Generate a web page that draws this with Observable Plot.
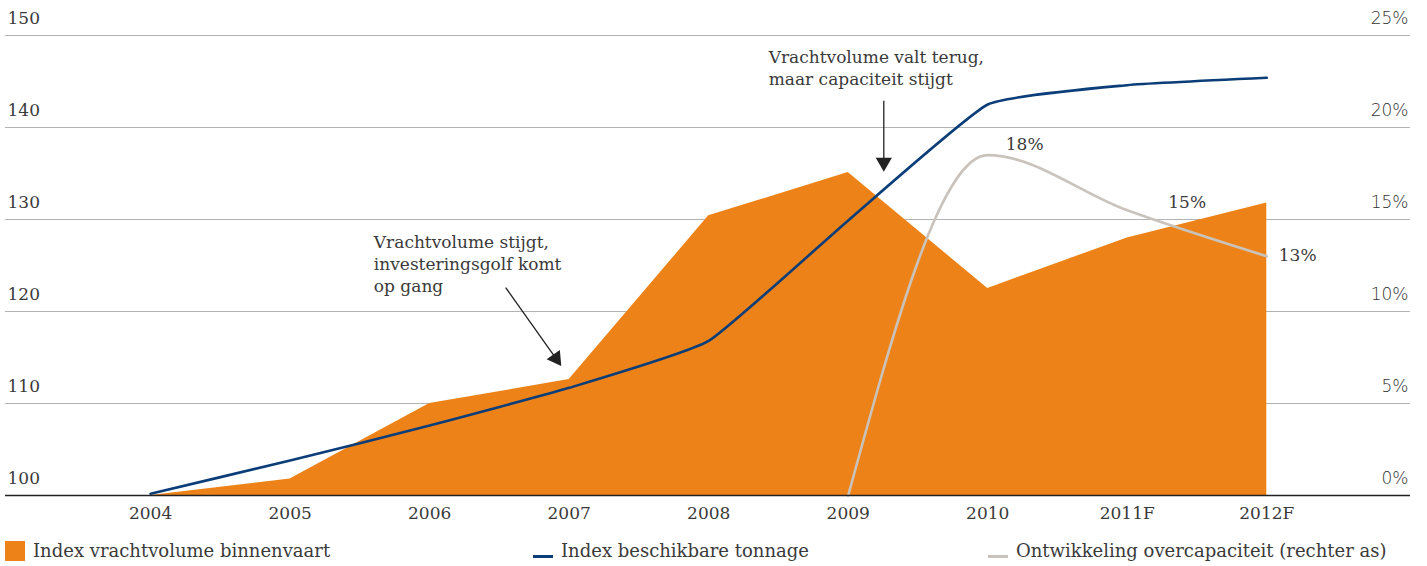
<!DOCTYPE html>
<html>
<head>
<meta charset="utf-8">
<script src="https://cdn.jsdelivr.net/npm/d3@7"></script>
<script src="https://cdn.jsdelivr.net/npm/@observablehq/plot@0.6"></script>
<style>
  body { margin: 0; background: #fff; }
  #wrap { position: relative; width: 1427px; height: 566px; font-family: "DejaVu Serif", serif; color: #3a3a3a; }
  #legend { position: absolute; top: 534px; left: 0; width: 1427px; height: 32px; font-size: 18px; }
  .item { position: absolute; top: 6px; display: flex; align-items: center; white-space: nowrap; }
  .sw { display: inline-block; margin-right: 8px; }
</style>
</head>
<body>
<div id="wrap">
  <div id="chart"></div>
  <div id="legend">
    <div class="item" style="left:5px"><span class="sw" style="width:20px;height:20px;background:#ED8318"></span>Index vrachtvolume binnenvaart</div>
    <div class="item" style="left:533px"><span class="sw" style="width:20px;height:3px;background:#0B3D78;margin-top:12px"></span>Index beschikbare tonnage</div>
    <div class="item" style="left:988px"><span class="sw" style="width:20px;height:3px;background:#C9C3BB;margin-top:12px"></span>Ontwikkeling overcapaciteit (rechter as)</div>
  </div>
</div>
<script>
const years = ["2004", "2005", "2006", "2007", "2008", "2009", "2010", "2011F", "2012F"];
const vrachtvolume = [100, 101.8, 110, 112.6, 130.4, 135.1, 122.5, 128.0, 131.8];
const tonnage = [100.2, 103.8, 107.6, 111.7, 116.8, 129.9, 142.5, 144.6, 145.4];
const overcapYears = ["2009", "2010", "2011F", "2012F"];
const overcap = [0, 18.5, 15.5, 13];
const leftTicks = [100, 110, 120, 130, 140, 150];
const rightTicks = [0, 5, 10, 15, 20, 25];
const overcapLabels = ["18%", "15%", "13%"];
const annotations = [
  {text: "Vrachtvolume valt terug,\nmaar capaciteit stijgt", x: 4.43, y: 148.75},
  {text: "Vrachtvolume stijgt,\ninvesteringsgolf komt\nop gang", x: 1.6, y: 128.6}
];
const arrows = [
  {x1: 5.255, y1: 142.9, x2: 5.255, y2: 136.2, rot: 180},
  {x1: 2.545, y1: 122.6, x2: 2.905, y2: 114.9, rot: 145}
];

const idx = y => years.indexOf(y);
const rows = years.map((y, i) => ({i, year: y, vol: vrachtvolume[i], ton: tonnage[i]}));
const oc = overcapYears.map((y, k) => ({i: idx(y), pct: overcap[k], v: 100 + overcap[k] * 2}));

const serif = "DejaVu Serif";
const sans = "DejaVu Sans";

const chart = Plot.plot({
  width: 1427,
  height: 534,
  marginLeft: 5,
  marginRight: 17,
  marginTop: 35,
  marginBottom: 39,
  x: {type: "linear", domain: [-1.04, 9.03], axis: null},
  y: {domain: [100, 150], axis: null},
  style: {fontFamily: serif, fontSize: "17px", color: "#3a3a3a", background: "#fff"},
  marks: [
    Plot.ruleY(leftTicks.filter(d => d > 100), {stroke: "#b3b3b3", strokeWidth: 1}),
    Plot.areaY(rows, {x: "i", y1: 100, y2: "vol", fill: "#ED8318"}),
    Plot.line(oc, {x: "i", y: "v", stroke: "#C9C3BB", strokeWidth: 2.6, curve: "monotone-x"}),
    Plot.line(rows, {x: "i", y: "ton", stroke: "#0B3D78", strokeWidth: 2.6, curve: "cardinal", tension: 0.6, strokeLinejoin: "round"}),
    Plot.ruleY([100], {stroke: "#222", strokeWidth: 1.4}),
    Plot.text(leftTicks, {y: d => d, text: d => String(d), frameAnchor: "left", textAnchor: "start", dx: 2, dy: -17, fontFamily: serif, fontSize: 17, fill: "#3a3a3a"}),
    Plot.text(rightTicks, {y: d => 100 + d * 2, text: d => d + "%", frameAnchor: "right", textAnchor: "end", dx: -2, dy: -17, fontFamily: sans, fontSize: 17, fill: "#333", fontWeight: 300}),
    Plot.text(rows, {x: "i", y: 100, text: "year", dy: 18, fontFamily: serif, fontSize: 17, fill: "#3a3a3a"}),
    Plot.text([oc[1]], {x: "i", y: "v", text: () => overcapLabels[0], textAnchor: "start", dx: 18, dy: -11, fontSize: 17, fill: "#3a3a3a"}),
    Plot.text([oc[2]], {x: "i", y: "v", text: () => overcapLabels[1], textAnchor: "start", dx: 41, dy: -8, fontSize: 17, fill: "#3a3a3a"}),
    Plot.text([oc[3]], {x: "i", y: "v", text: () => overcapLabels[2], textAnchor: "start", dx: 12, dy: -1, fontSize: 17, fill: "#3a3a3a"}),
    Plot.text(annotations, {x: "x", y: "y", text: "text", textAnchor: "start", lineAnchor: "top", lineHeight: 1.3, fontSize: 17, fill: "#3a3a3a"}),
    Plot.link(arrows, {x1: "x1", y1: "y1", x2: "x2", y2: "y2", stroke: "#222", strokeWidth: 1.3}),
    Plot.dot(arrows, {x: "x2", y: "y2", symbol: "triangle", r: 6, fill: "#222", stroke: "none", rotate: "rot"})
  ]
});
document.getElementById("chart").append(chart);
</script>
</body>
</html>
